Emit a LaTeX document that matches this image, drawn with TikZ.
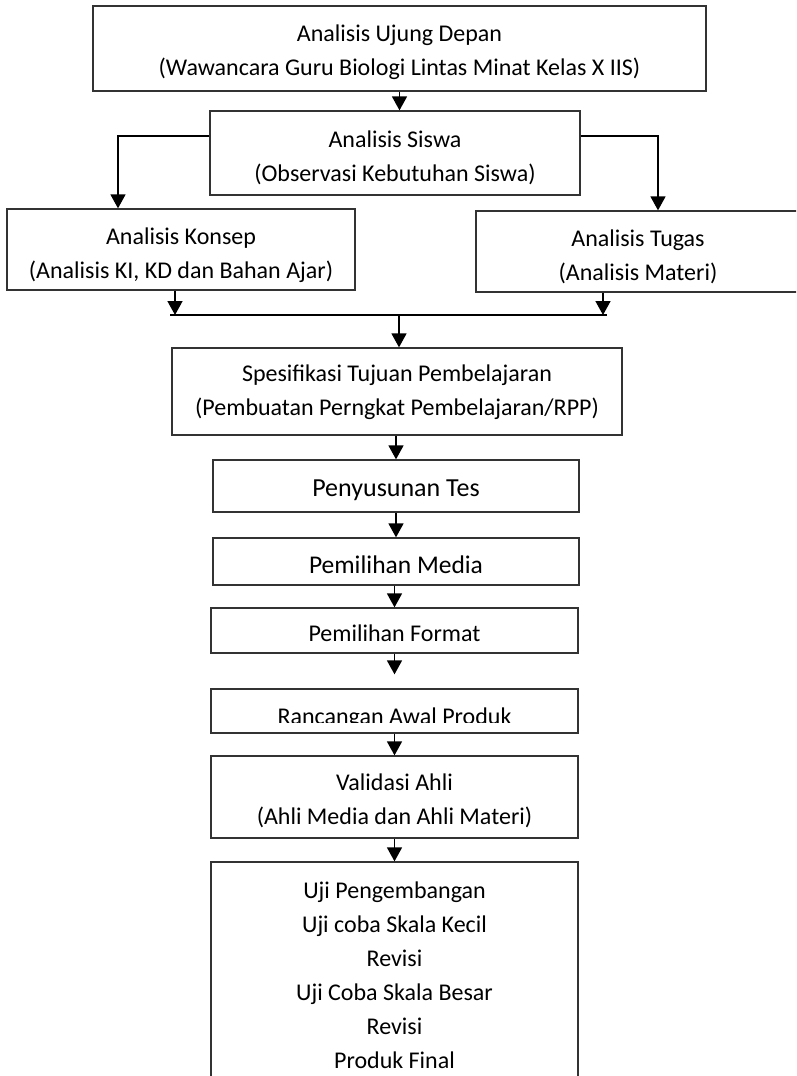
\documentclass[tikz,border=0pt]{standalone}
\usepackage{fontspec}
\setmainfont{Carlito}
\usetikzlibrary{arrows.meta}
\tikzset{
  box/.style={draw=black!80, line width=1.3pt, inner sep=0pt},
  arr/.style={draw=black, line width=1.6pt, -{Triangle[length=14pt,width=15pt]}},
  ln/.style={draw=black, line width=1.6pt},
  txt/.style={inner sep=0pt, align=center, font=\fontsize{24}{34}\selectfont}
}
\begin{document}
\begin{tikzpicture}[x=1pt,y=-1pt]
\useasboundingbox (0,0) rectangle (796,1076);
\clip (0,0) rectangle (796,1076);
\fill[white] (0,0) rectangle (796,1076);

% boxes
\node[box, minimum width=613pt, minimum height=85pt] (b1) at (399.5,48.5) {};
\node[box, minimum width=370pt, minimum height=84pt] (b2) at (395,153) {};
\node[box, minimum width=348pt, minimum height=81pt] (b3) at (181,249.5) {};
\node[box, minimum width=329pt, minimum height=81pt] (b4) at (640.5,251.5) {};
\node[box, minimum width=450pt, minimum height=87pt] (b5) at (397,391.5) {};
\node[box, minimum width=366pt, minimum height=52pt] (b6) at (396,486) {};
\node[box, minimum width=366pt, minimum height=47pt] (b7) at (396,561.5) {};
\node[box, minimum width=367pt, minimum height=45pt] (b8) at (394.5,630.5) {};
\node[box, minimum width=367pt, minimum height=44pt] (b9) at (394.5,711) {};
\node[box, minimum width=367pt, minimum height=82pt] (b10) at (394.5,797) {};
\node[box, minimum width=367pt, minimum height=223pt] (b11) at (394.5,973.5) {};

% texts
\node[txt] (b1t) at (399.5,52.5)
  {Analisis Ujung Depan\\(Wawancara Guru Biologi Lintas Minat Kelas X IIS)};
\node[txt] (b2t) at (395,157.5)
  {Analisis Siswa\\(Observasi Kebutuhan Siswa)};
\node[txt] (b3t) at (181,255.5)
  {Analisis Konsep\\(Analisis KI, KD dan Bahan Ajar)};
\node[txt] (b4t) at (638,256.5)
  {Analisis Tugas\\(Analisis Materi)};
\node[txt] (b5t) at (397,392.5)
  {Spesifikasi Tujuan Pembelajaran\\(Pembuatan Perngkat Pembelajaran/RPP)};
\node[txt, anchor=base, font=\fontsize{26}{30}\selectfont] (b6t) at (396,496) {Penyusunan Tes};
\node[txt, anchor=base, font=\fontsize{25.5}{30}\selectfont] (b7t) at (396,573) {Pemilihan Media};
\node[txt, anchor=base] (b8t) at (394.5,641) {Pemilihan Format};
\begin{scope}
  \clip (211,690) rectangle (578,722.5);
  \node[txt, anchor=base] (b9t) at (394.5,724.5) {Rancangan Awal Produk};
\end{scope}
\node[txt] (b10t) at (394.5,800.5)
  {Validasi Ahli\\(Ahli Media dan Ahli Materi)};
\node[txt] (b11t) at (394.5,975)
  {Uji Pengembangan\\Uji coba Skala Kecil\\Revisi\\Uji Coba Skala Besar\\Revisi\\Produk Final};

% connectors
\draw[arr] (b1.south) -- (b1.south |- b2.north);
\coordinate (L) at (118,136);
\coordinate (R) at (658,136);
\draw[arr] (b2.west |- L) -| (L |- b3.north);
\draw[arr] (b2.east |- R) -| (R |- b4.north);
\coordinate (al) at (175,315);
\coordinate (ar) at (603,315);
\coordinate (jl) at (170,315);
\coordinate (jr) at (607,315);
\coordinate (jm) at (399,315);
\draw[arr] (al |- b3.south) -- (al);
\draw[arr] (ar |- b4.south) -- (ar);
\draw[ln] (jl) -- (jr);
\draw[arr] (jm) -- (jm |- b5.north);
\draw[arr] (b6.north |- b5.south) -- (b6.north);
\draw[arr] (b6.south) -- (b7.north);
\draw[arr] (b8.north |- b7.south) -- (b8.north);
\coordinate (f9) at ([yshift=14pt]b9.north);
\draw[arr] (b8.south) -- (f9);
\draw[arr] (b9.south) -- (b10.north);
\draw[arr] (b10.south) -- (b11.north);
\end{tikzpicture}
\end{document}
